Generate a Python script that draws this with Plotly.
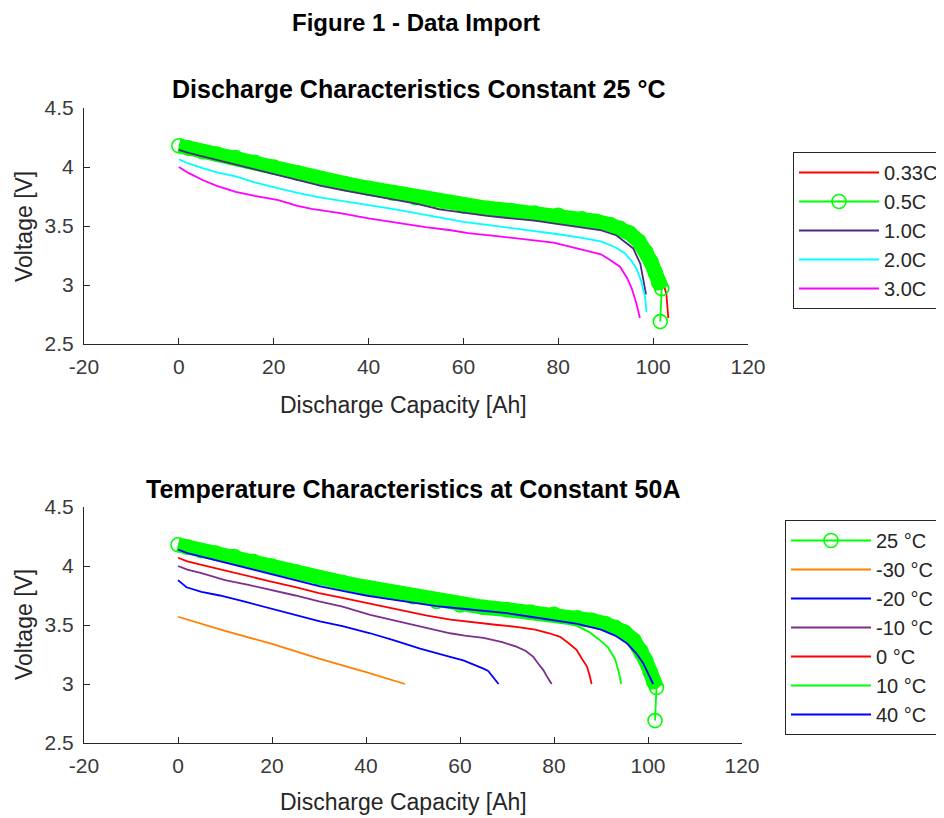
import plotly.graph_objects as go

# ---------------- data ----------------
# Top: discharge characteristics at 25 °C
cap_033 = [0, 5, 12, 20, 30, 40, 50, 60, 70, 80, 88, 93, 96, 98.5, 100.5, 102, 102.8, 103.1, 103.2]
v_033 = [4.19, 4.14, 4.08, 4.01, 3.91, 3.83, 3.75, 3.68, 3.64, 3.60, 3.55, 3.49, 3.42, 3.32, 3.18, 3.04, 2.92, 2.80, 2.72]

cap_05 = [0, 2, 5, 8, 12, 16, 20, 25, 30, 35, 40, 45, 50, 55, 60, 65, 70, 75, 80, 85, 88, 91, 93, 95, 97, 98.5, 99.5, 100.5, 101.2, 101.8, 101.5]
v_05 = [4.18, 4.16, 4.13, 4.11, 4.08, 4.04, 4.00, 3.95, 3.90, 3.86, 3.82, 3.78, 3.74, 3.70, 3.67, 3.65, 3.63, 3.61, 3.59, 3.56, 3.54, 3.51, 3.48, 3.44, 3.37, 3.28, 3.20, 3.10, 3.02, 2.97, 2.69]

cap_10 = [0, 2, 5, 8, 12, 16, 20, 25, 30, 35, 40, 45, 50, 55, 60, 65, 70, 75, 80, 85, 88.8, 92.3, 94, 95.8, 97.3, 98.3, 98.5]
v_10 = [4.145, 4.12, 4.09, 4.06, 4.02, 3.98, 3.94, 3.89, 3.84, 3.80, 3.765, 3.73, 3.69, 3.64, 3.61, 3.585, 3.565, 3.545, 3.515, 3.49, 3.466, 3.42, 3.37, 3.31, 3.18, 2.98, 2.92]

cap_20 = [0, 2, 5, 8, 12, 16, 20, 25, 30, 35, 40, 45, 50, 55, 60, 65, 70, 75, 80, 85, 89, 92, 94, 95.5, 96.6, 97.5, 98.3, 98.6]
v_20 = [4.065, 4.03, 3.99, 3.955, 3.92, 3.87, 3.83, 3.78, 3.74, 3.71, 3.68, 3.645, 3.61, 3.57, 3.535, 3.51, 3.485, 3.46, 3.43, 3.40, 3.37, 3.32, 3.27, 3.20, 3.13, 3.03, 2.90, 2.77]

cap_30 = [0, 2, 5, 8, 12, 16, 21, 25, 28, 34, 40, 46, 52, 57, 61, 68, 74, 79, 85, 89, 91, 93, 94.5, 95.5, 96.5, 97.2]
v_30 = [4.0, 3.95, 3.89, 3.84, 3.79, 3.755, 3.72, 3.67, 3.645, 3.61, 3.565, 3.525, 3.49, 3.466, 3.44, 3.41, 3.38, 3.36, 3.30, 3.26, 3.21, 3.155, 3.06, 2.97, 2.84, 2.72]

rate_names = ["0.33C", "0.5C", "1.0C", "2.0C", "3.0C"]

# Bottom: temperature characteristics at 50 A (25 °C curve is the 0.5C data)
cap_m30 = [0, 10, 20, 30, 40, 48.3]
v_m30 = [3.57, 3.45, 3.34, 3.215, 3.10, 3.0]

cap_m20 = [0, 1.8, 5, 8.9, 14, 19.6, 25, 30.2, 35, 40.9, 46, 51.5, 57.9, 60.7, 65, 66, 68.2]
v_m20 = [3.88, 3.82, 3.78, 3.75, 3.70, 3.64, 3.58, 3.53, 3.49, 3.43, 3.37, 3.30, 3.23, 3.20, 3.13, 3.11, 3.0]

cap_m10 = [0, 2, 5, 10, 15, 19.6, 25, 30, 35, 40.9, 47, 53, 57.9, 61, 65, 69, 72, 74, 75.6, 76.7, 77.7, 78.7, 79.5]
v_m10 = [4.0, 3.97, 3.94, 3.88, 3.84, 3.80, 3.75, 3.70, 3.655, 3.585, 3.53, 3.48, 3.43, 3.41, 3.39, 3.355, 3.316, 3.28, 3.23, 3.17, 3.12, 3.05, 3.0]

cap_0 = [0, 2, 5, 10, 15, 19.6, 25, 30, 35, 40.9, 47, 53, 58, 63, 68, 72, 76, 79, 81.3, 83, 84.8, 86, 87, 87.6, 88]
v_0 = [4.07, 4.04, 4.01, 3.96, 3.91, 3.87, 3.82, 3.77, 3.73, 3.68, 3.63, 3.58, 3.545, 3.52, 3.50, 3.485, 3.46, 3.43, 3.40, 3.35, 3.29, 3.21, 3.15, 3.07, 3.0]

cap_p10 = [0, 5, 12, 20, 30, 40, 50, 60, 70, 78, 80, 83, 85, 87.5, 89.5, 91.5, 93, 93.8, 94.3]
v_p10 = [4.13, 4.08, 4.03, 3.96, 3.87, 3.79, 3.71, 3.64, 3.60, 3.565, 3.545, 3.515, 3.49, 3.44, 3.38, 3.31, 3.21, 3.10, 3.0]

cap_p40 = [0, 2, 5, 8, 12, 16, 20, 25, 30, 35, 40, 45, 50, 55, 60, 65, 70, 75, 80, 85, 90, 93, 95.5, 97.5, 99, 100.2, 101.1]
v_p40 = [4.14, 4.11, 4.08, 4.05, 4.01, 3.97, 3.93, 3.88, 3.83, 3.79, 3.75, 3.72, 3.69, 3.66, 3.64, 3.62, 3.60, 3.57, 3.54, 3.51, 3.46, 3.41, 3.345, 3.26, 3.175, 3.08, 3.0]

temp_names = ["25 °C", "-30 °C", "-20 °C", "-10 °C", "0 °C", "10 °C", "40 °C"]

x_ticks = [-20, 0, 20, 40, 60, 80, 100, 120]
x_tick_text = ["-20", "0", "20", "40", "60", "80", "100", "120"]
y_ticks = [2.5, 3, 3.5, 4, 4.5]
y_tick_text = ["2.5", "3", "3.5", "4", "4.5"]

# ---------------- styles ----------------
FONT = "Liberation Sans, Arial, Helvetica, sans-serif"
AX = "#262626"
GREEN = "#00FF00"
W = 944
H = 818
OFF = 8  # page body margin of the written html

def px_x(p):
    return (p - OFF) / W

def px_y(p):
    return 1 - (p - OFF) / H

fig = go.Figure()

def line(x, y, name, color, xa, ya, legend, show=True, width=1.8):
    fig.add_trace(go.Scatter(x=x, y=y, name=name, mode="lines",
                             line=dict(color=color, width=width),
                             xaxis=xa, yaxis=ya, legend=legend, showlegend=show))

def marked(x, y, name, xa, ya, legend):
    # band produced by the densely packed circle markers of the measured data
    fig.add_trace(go.Scatter(x=x[:-1], y=y[:-1], mode="lines", showlegend=False,
                             line=dict(color=GREEN, width=15), hoverinfo="skip",
                             xaxis=xa, yaxis=ya))
    fig.add_trace(go.Scatter(x=x, y=y, name=name, mode="lines+markers",
                             line=dict(color=GREEN, width=1.8),
                             marker=dict(symbol="circle-open", size=14, color=GREEN,
                                         line=dict(width=1.6, color=GREEN)),
                             xaxis=xa, yaxis=ya, legend=legend))

# top subplot
line(cap_033, v_033, rate_names[0], "#FF0000", "x", "y", "legend")
marked(cap_05, v_05, rate_names[1], "x", "y", "legend")
line(cap_10, v_10, rate_names[2], "#4B2A80", "x", "y", "legend")
line(cap_20, v_20, rate_names[3], "#00FFFF", "x", "y", "legend")
line(cap_30, v_30, rate_names[4], "#FF00FF", "x", "y", "legend")

# bottom subplot
marked(cap_05, v_05, temp_names[0], "x2", "y2", "legend2")
line(cap_m30, v_m30, temp_names[1], "#FF8000", "x2", "y2", "legend2")
line(cap_m20, v_m20, temp_names[2], "#0000FF", "x2", "y2", "legend2")
line(cap_m10, v_m10, temp_names[3], "#7E2F8E", "x2", "y2", "legend2")
line(cap_0, v_0, temp_names[4], "#FF0000", "x2", "y2", "legend2")
line(cap_p10, v_p10, temp_names[5], GREEN, "x2", "y2", "legend2")
line(cap_p40, v_p40, temp_names[6], "#0000FF", "x2", "y2", "legend2")

axis_common = dict(showline=True, linecolor=AX, linewidth=1, ticks="inside", ticklen=6,
                   tickcolor=AX, tickwidth=1, showgrid=False, zeroline=False,
                   automargin=False,
                   tickfont=dict(family=FONT, size=21, color="#3a3a3a"))

fig.update_layout(
    width=W, height=H,
    margin=dict(l=0, r=0, t=0, b=0, autoexpand=False),
    paper_bgcolor="white", plot_bgcolor="white",
    font=dict(family=FONT, color=AX),
    xaxis=dict(domain=[px_x(84), px_x(748)], range=[-20, 120], tickvals=x_ticks, ticktext=x_tick_text,
               anchor="y", ticklabelstandoff=4, **axis_common),
    yaxis=dict(domain=[px_y(344), px_y(108)], range=[2.5, 4.5], tickvals=y_ticks, ticktext=y_tick_text,
               anchor="x", ticklabelstandoff=5, **axis_common),
    xaxis2=dict(domain=[px_x(84), px_x(742)], range=[-20, 120], tickvals=x_ticks, ticktext=x_tick_text,
                anchor="y2", ticklabelstandoff=4, **axis_common),
    yaxis2=dict(domain=[px_y(743), px_y(507)], range=[2.5, 4.5], tickvals=y_ticks, ticktext=y_tick_text,
                anchor="x2", ticklabelstandoff=5, **axis_common),
    legend=dict(x=px_x(793), y=px_y(152), xanchor="left", yanchor="top",
                bgcolor="white", bordercolor=AX, borderwidth=1,
                font=dict(family=FONT, size=20, color=AX), itemwidth=80),
    legend2=dict(x=px_x(785), y=px_y(520), xanchor="left", yanchor="top",
                 bgcolor="white", bordercolor=AX, borderwidth=1,
                 font=dict(family=FONT, size=20, color=AX), itemwidth=80),
    showlegend=True,
)

ann = []
def text(s, x, y, size, bold=False, angle=0, yanchor="middle"):
    ann.append(dict(text=("<b>%s</b>" % s) if bold else s, x=px_x(x), y=px_y(y),
                    xref="paper", yref="paper", xanchor="center", yanchor=yanchor,
                    showarrow=False, textangle=angle, borderpad=0,
                    font=dict(family=FONT, size=size, color="#000000" if bold else AX)))

text("Figure 1 - Data Import", 416, 8, 24, bold=True, yanchor="top")
text("Discharge Characteristics Constant 25 °C", 419, 89, 25, bold=True)
text("Temperature Characteristics at Constant 50A", 413, 489, 25, bold=True)
text("Discharge Capacity [Ah]", 403, 405, 23)
text("Discharge Capacity [Ah]", 403, 802, 23)
text("Voltage [V]", 24, 227, 23, angle=-90)
text("Voltage [V]", 24, 625, 23, angle=-90)
fig.update_layout(annotations=ann)

fig.write_html("out.html")
